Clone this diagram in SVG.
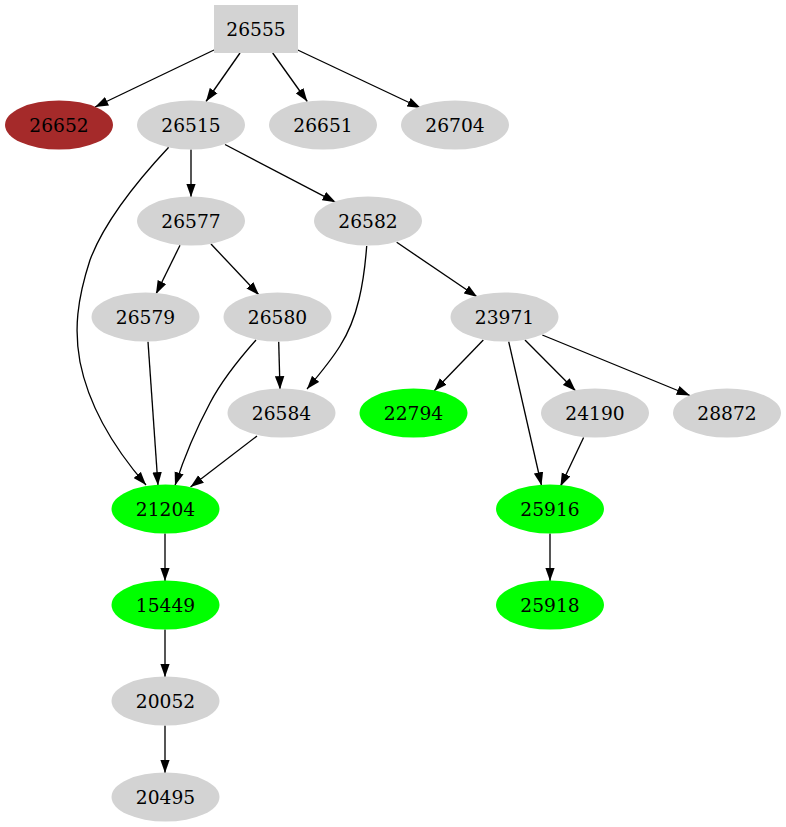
<svg xmlns="http://www.w3.org/2000/svg" width="786" height="827" viewBox="0 0 786 827">
<style>
.n ellipse,.n rect{fill:#d3d3d3;stroke:none}
.g ellipse{fill:#00ff00}
.b ellipse{fill:#a52a2a}
text{font-family:"DejaVu Serif",serif;font-size:18.67px;text-anchor:middle;fill:#000}
.e path{fill:none;stroke:#000;stroke-width:1.33;marker-end:url(#a)}
</style>
<defs>
<marker id="a" markerWidth="14" markerHeight="10" refX="13.3" refY="5" orient="auto" markerUnits="userSpaceOnUse">
<path d="M0,0.3 L13.3,5 L0,9.7 z" fill="#000"/>
</marker>
</defs>
<rect width="786" height="827" fill="#fff"/>
<g class="e" id="edges">
<path d="M214,50 L95,107"/>
<path d="M240,53 L206,101.5"/>
<path d="M272.7,53 L307.3,101.5"/>
<path d="M297.7,50 L420.7,108"/>
<path d="M191,149.5 L191,197"/>
<path d="M225,144.5 L335.7,202.3"/>
<path d="M168.7,147.3 C140,178 105,220 90,260 C77,300 74,330 80,362 C90,412 120,455 146,485"/>
<path d="M180,245.3 L156,294"/>
<path d="M211,244 L259,295"/>
<path d="M366.7,246 C364,282 358,318 340,346 C330,362 318,376 307,389"/>
<path d="M396.7,242.3 L477.3,297"/>
<path d="M148,341.7 L158,485.5"/>
<path d="M256,340 C240,358 222,380 210,403 C195,431 184,458 175,485.5"/>
<path d="M278.7,341.7 L280,389.5"/>
<path d="M257,436 L190.5,487"/>
<path d="M483.3,340 L434,391"/>
<path d="M508.7,341.7 L541.5,485.5"/>
<path d="M525,340 L575.7,391"/>
<path d="M542.3,335 L690,395.5"/>
<path d="M583.6,437.5 L560.4,486.5"/>
<path d="M550,533.5 L550,581"/>
<path d="M165,533.5 L165,581"/>
<path d="M165,629.5 L165,677"/>
<path d="M165,725.5 L165,773"/>
</g>
<g class="n" id="n26555"><rect x="214" y="5" width="84" height="48"/><text x="256" y="35.7">26555</text></g>
<g class="n b" id="n26652"><ellipse cx="59" cy="125" rx="54" ry="24.5"/><text x="59" y="131.7">26652</text></g>
<g class="n" id="n26515"><ellipse cx="191" cy="125" rx="54" ry="24.5"/><text x="191" y="131.7">26515</text></g>
<g class="n" id="n26651"><ellipse cx="323" cy="125" rx="54" ry="24.5"/><text x="323" y="131.7">26651</text></g>
<g class="n" id="n26704"><ellipse cx="455" cy="125" rx="54" ry="24.5"/><text x="455" y="131.7">26704</text></g>
<g class="n" id="n26577"><ellipse cx="191" cy="221" rx="54" ry="24.5"/><text x="191" y="227.7">26577</text></g>
<g class="n" id="n26582"><ellipse cx="368" cy="221" rx="54" ry="24.5"/><text x="368" y="227.7">26582</text></g>
<g class="n" id="n26579"><ellipse cx="145.5" cy="317" rx="54" ry="24.5"/><text x="145.5" y="323.7">26579</text></g>
<g class="n" id="n26580"><ellipse cx="277.5" cy="317" rx="54" ry="24.5"/><text x="277.5" y="323.7">26580</text></g>
<g class="n" id="n23971"><ellipse cx="504.5" cy="317" rx="54" ry="24.5"/><text x="504.5" y="323.7">23971</text></g>
<g class="n" id="n26584"><ellipse cx="281.5" cy="413" rx="54" ry="24.5"/><text x="281.5" y="419.7">26584</text></g>
<g class="n g" id="n22794"><ellipse cx="413.5" cy="413" rx="54" ry="24.5"/><text x="413.5" y="419.7">22794</text></g>
<g class="n" id="n24190"><ellipse cx="595" cy="413" rx="54" ry="24.5"/><text x="595" y="419.7">24190</text></g>
<g class="n" id="n28872"><ellipse cx="727" cy="413" rx="54" ry="24.5"/><text x="727" y="419.7">28872</text></g>
<g class="n g" id="n21204"><ellipse cx="165.5" cy="509" rx="54" ry="24.5"/><text x="165.5" y="515.7">21204</text></g>
<g class="n g" id="n25916"><ellipse cx="550" cy="509" rx="54" ry="24.5"/><text x="550" y="515.7">25916</text></g>
<g class="n g" id="n15449"><ellipse cx="165.5" cy="605" rx="54" ry="24.5"/><text x="165.5" y="611.7">15449</text></g>
<g class="n g" id="n25918"><ellipse cx="550" cy="605" rx="54" ry="24.5"/><text x="550" y="611.7">25918</text></g>
<g class="n" id="n20052"><ellipse cx="165.5" cy="701" rx="54" ry="24.5"/><text x="165.5" y="707.7">20052</text></g>
<g class="n" id="n20495"><ellipse cx="165.5" cy="797" rx="54" ry="24.5"/><text x="165.5" y="803.7">20495</text></g>
</svg>
